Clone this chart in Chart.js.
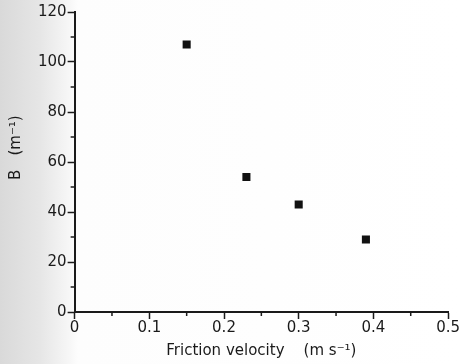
<!DOCTYPE html>
<html>
<head>
<meta charset="utf-8">
<script src="https://cdn.jsdelivr.net/npm/chart.js@4.4.1/dist/chart.umd.min.js"></script>
<style>
  html, body {
    margin: 0;
    padding: 0;
  }
  body {
    width: 460px;
    height: 364px;
    background: linear-gradient(to right, #d9d9d9 0px, #e6e6e6 40px, #f6f6f6 68px, #fdfdfd 78px, #ffffff 100%);
  }
  #wrap {
    position: relative;
    width: 460px;
    height: 364px;
  }
</style>
</head>
<body>
<div id="wrap"><canvas id="chart"></canvas></div>
<script>
// Friction velocity (m s-1) vs B (m-1)
const frictionVelocity = [0.15, 0.23, 0.30, 0.39];
const bValues = [107, 54, 43, 29];

const xMinorTicks = [0.05, 0.15, 0.25, 0.35, 0.45];
const yMinorTicks = [10, 30, 50, 70, 90, 110];

const ink = "#1a1a1a";
const fontFamily = "'DejaVu Sans', sans-serif";

// short minor tick marks drawn from the library's scales
const minorTicks = {
  id: "minorTicks",
  afterDraw(chart) {
    const ctx = chart.ctx;
    const xs = chart.scales.x;
    const ys = chart.scales.y;
    ctx.save();
    ctx.strokeStyle = ink;
    ctx.lineWidth = 1.5;
    ctx.beginPath();
    xMinorTicks.forEach((v) => {
      const px = xs.getPixelForValue(v);
      ctx.moveTo(px, xs.top);
      ctx.lineTo(px, xs.top + 4);
    });
    yMinorTicks.forEach((v) => {
      const py = ys.getPixelForValue(v);
      ctx.moveTo(ys.right, py);
      ctx.lineTo(ys.right - 4, py);
    });
    ctx.stroke();
    ctx.restore();
  },
};

const ctx = document.getElementById("chart").getContext("2d");
new Chart(ctx, {
  type: "scatter",
  data: {
    datasets: [
      {
        label: "B",
        data: frictionVelocity.map((x, i) => ({ x: x, y: bValues[i] })),
        pointStyle: "rect",
        pointRadius: 5.7,
        pointHoverRadius: 5.7,
        backgroundColor: "#111111",
        borderColor: "#111111",
        borderWidth: 0,
      },
    ],
  },
  options: {
    responsive: true,
    maintainAspectRatio: false,
    animation: false,
    layout: {
      padding: { top: 12, right: 7, left: 7, bottom: 4 },
    },
    plugins: {
      legend: { display: false },
      tooltip: { enabled: false },
    },
    scales: {
      x: {
        type: "linear",
        min: 0,
        max: 0.5,
        ticks: {
          stepSize: 0.1,
          color: ink,
          padding: 0,
          font: { family: fontFamily, size: 15 },
          maxRotation: 0,
          callback: (v) => (v === 0 ? "0" : v.toFixed(1)),
        },
        grid: {
          drawOnChartArea: false,
          tickLength: 7,
          tickColor: ink,
          tickWidth: 1.5,
        },
        border: { color: ink, width: 2 },
        title: {
          display: true,
          text: "Friction velocity    (m s\u207B\u00B9)",
          color: ink,
          font: { family: fontFamily, size: 15 },
          padding: { top: 5, bottom: 0 },
        },
      },
      y: {
        type: "linear",
        min: 0,
        max: 120,
        ticks: {
          stepSize: 20,
          color: ink,
          padding: 1,
          font: { family: fontFamily, size: 15 },
        },
        grid: {
          drawOnChartArea: false,
          tickLength: 7,
          tickColor: ink,
          tickWidth: 1.5,
        },
        border: { color: ink, width: 2 },
        title: {
          display: true,
          text: "      B   (m\u207B\u00B9)",
          color: ink,
          font: { family: fontFamily, size: 15 },
          padding: { top: 0, bottom: 12 },
        },
      },
    },
  },
  plugins: [minorTicks],
});
</script>
</body>
</html>
